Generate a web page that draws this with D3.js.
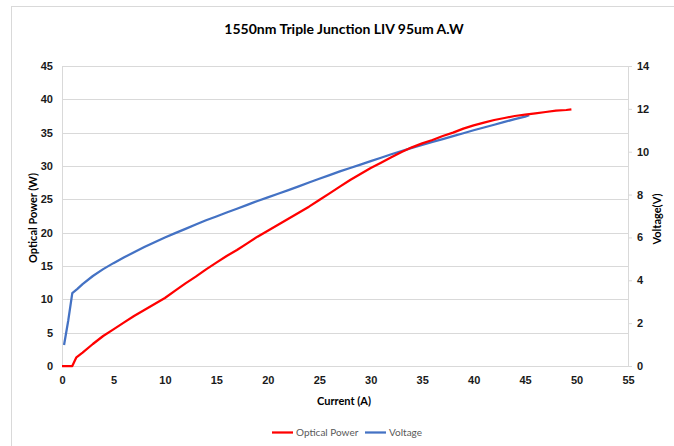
<!DOCTYPE html>
<html>
<head>
<meta charset="utf-8">
<script src="https://cdn.jsdelivr.net/npm/d3@7"></script>
<style>
  body { margin: 0; background: #fff; }
  svg { font-family: Lato, "Open Sans", sans-serif; }
</style>
</head>
<body>
<div id="chart"></div>
<script>
// Optical power vs current
var powerCurrent = [0, 0.5, 1.0, 1.4, 2, 3, 4, 5, 6, 7, 8, 9, 10, 11, 12, 13, 14, 15, 16, 17, 18, 19, 20,
  21, 22, 23, 24, 25, 26, 27, 28, 29, 30, 31, 32, 33, 34, 35, 36, 37, 38, 39, 40,
  41, 42, 43, 44, 45, 46, 47, 48, 49, 49.5];
var powerValues = [0, 0, 0, 1.3, 2.0, 3.3, 4.5, 5.5, 6.5, 7.5, 8.4, 9.3, 10.2, 11.3, 12.4, 13.4, 14.5, 15.5, 16.5, 17.4, 18.4, 19.4, 20.3,
  21.2, 22.1, 23.0, 23.9, 24.9, 25.9, 26.9, 27.9, 28.8, 29.7, 30.5, 31.3, 32.1, 32.8, 33.4, 33.9, 34.5, 35.0, 35.6, 36.1,
  36.5, 36.9, 37.2, 37.5, 37.7, 37.9, 38.1, 38.3, 38.4, 38.5];

// Voltage vs current
var voltCurrent = [0.2, 0.6, 1.0, 1.5, 2, 3, 4, 5, 6, 7, 8, 9, 10, 11, 12, 13, 14, 15, 16, 17, 18, 19, 20,
  21, 22, 23, 24, 25, 26, 27, 28, 29, 30, 31, 32, 33, 34, 35, 36, 37, 38, 39, 40,
  41, 42, 43, 44, 45, 45.4];
var voltValues = [0.98, 2.1, 3.4, 3.6, 3.82, 4.2, 4.52, 4.8, 5.06, 5.31, 5.55, 5.78, 6.0, 6.2, 6.4, 6.6, 6.8, 6.98, 7.16, 7.34, 7.52, 7.7, 7.87,
  8.04, 8.21, 8.38, 8.56, 8.74, 8.91, 9.08, 9.24, 9.4, 9.56, 9.72, 9.88, 10.03, 10.18, 10.32, 10.46, 10.59, 10.73, 10.86, 11.0,
  11.13, 11.26, 11.39, 11.52, 11.64, 11.71];

var xTicks = [0, 5, 10, 15, 20, 25, 30, 35, 40, 45, 50, 55];
var yLeftTicks = [0, 5, 10, 15, 20, 25, 30, 35, 40, 45];
var yRightTicks = [0, 2, 4, 6, 8, 10, 12, 14];

var W = 674, H = 446;
var margin = {top: 66, right: 46, bottom: 80, left: 62},
    width = W - margin.left - margin.right,
    height = H - margin.top - margin.bottom;

var svg = d3.select("#chart")
  .append("svg")
    .attr("width", W)
    .attr("height", H);

// outer chart border
svg.append("rect")
  .attr("x", 11.5).attr("y", 6.5)
  .attr("width", 700).attr("height", 500)
  .attr("fill", "none")
  .attr("stroke", "#d9d9d9");

svg.append("text")
  .attr("x", 344).attr("y", 34)
  .attr("text-anchor", "middle")
  .style("font-size", "14px").style("font-weight", "bold")
  .attr("fill", "#000")
  .text("1550nm Triple Junction LIV 95um A.W");

var g = svg.append("g")
  .attr("transform", "translate(" + margin.left + "," + margin.top + ")");

var x = d3.scaleLinear().domain([0, 55]).range([0, width]);
var yL = d3.scaleLinear().domain([0, 45]).range([height, 0]);
var yR = d3.scaleLinear().domain([0, 14]).range([height, 0]);

// gridlines
g.append("g")
  .selectAll("line")
  .data(yLeftTicks)
  .enter()
  .append("line")
    .attr("x1", 0).attr("x2", width)
    .attr("y1", function(d) { return Math.round(yL(d)) + 0.5; })
    .attr("y2", function(d) { return Math.round(yL(d)) + 0.5; })
    .attr("stroke", "#d9d9d9");

// left axis
var leftAxis = g.append("g")
  .call(d3.axisLeft(yL).tickValues(yLeftTicks).tickSize(0).tickPadding(9));
leftAxis.select(".domain").attr("stroke", "#d9d9d9");

// right axis
var rightAxis = g.append("g")
  .attr("transform", "translate(" + width + ",0)")
  .call(d3.axisRight(yR).tickValues(yRightTicks).tickSize(4).tickSizeOuter(0).tickPadding(5));
rightAxis.select(".domain").attr("stroke", "#d9d9d9");
rightAxis.selectAll(".tick line").attr("stroke", "#d9d9d9");

// bottom axis
var bottomAxis = g.append("g")
  .attr("transform", "translate(0," + height + ")")
  .call(d3.axisBottom(x).tickValues(xTicks).tickSize(0).tickPadding(10));
bottomAxis.select(".domain").attr("stroke", "#d9d9d9");

g.selectAll(".tick text")
  .style("font-size", "11px")
  .style("font-weight", "bold")
  .attr("fill", "#1a1a1a");

// lines
var powerData = powerCurrent.map(function(c, i) { return [c, powerValues[i]]; });
var voltData = voltCurrent.map(function(c, i) { return [c, voltValues[i]]; });

g.append("path")
  .datum(voltData)
  .attr("fill", "none")
  .attr("stroke", "#4472c4")
  .attr("stroke-width", 2.25)
  .attr("stroke-linejoin", "round")
  .attr("d", d3.line().x(function(d) { return x(d[0]); }).y(function(d) { return yR(d[1]); }));

g.append("path")
  .datum(powerData)
  .attr("fill", "none")
  .attr("stroke", "#ff0000")
  .attr("stroke-width", 2.25)
  .attr("stroke-linejoin", "round")
  .attr("d", d3.line().x(function(d) { return x(d[0]); }).y(function(d) { return yL(d[1]); }));

// axis titles
svg.append("text")
  .attr("x", 344).attr("y", 405)
  .attr("text-anchor", "middle")
  .style("font-size", "11px").style("font-weight", "bold")
  .text("Current (A)");

svg.append("text")
  .attr("transform", "translate(37,218) rotate(-90)")
  .attr("text-anchor", "middle")
  .style("font-size", "11px").style("font-weight", "bold")
  .text("Optical Power (W)");

svg.append("text")
  .attr("transform", "translate(661,219) rotate(-90)")
  .attr("text-anchor", "middle")
  .style("font-size", "11px").style("font-weight", "bold")
  .text("Voltage(V)");

// legend
var legend = [
  {name: "Optical Power", color: "#ff0000", x: 272},
  {name: "Voltage", color: "#4472c4", x: 365}
];
var lg = svg.append("g");
legend.forEach(function(d) {
  lg.append("line")
    .attr("x1", d.x).attr("x2", d.x + 21)
    .attr("y1", 432.5).attr("y2", 432.5)
    .attr("stroke", d.color).attr("stroke-width", 2.25);
  lg.append("text")
    .attr("x", d.x + 24).attr("y", 436)
    .style("font-size", "10px")
    .attr("fill", "#595959")
    .text(d.name);
});
</script>
</body>
</html>
